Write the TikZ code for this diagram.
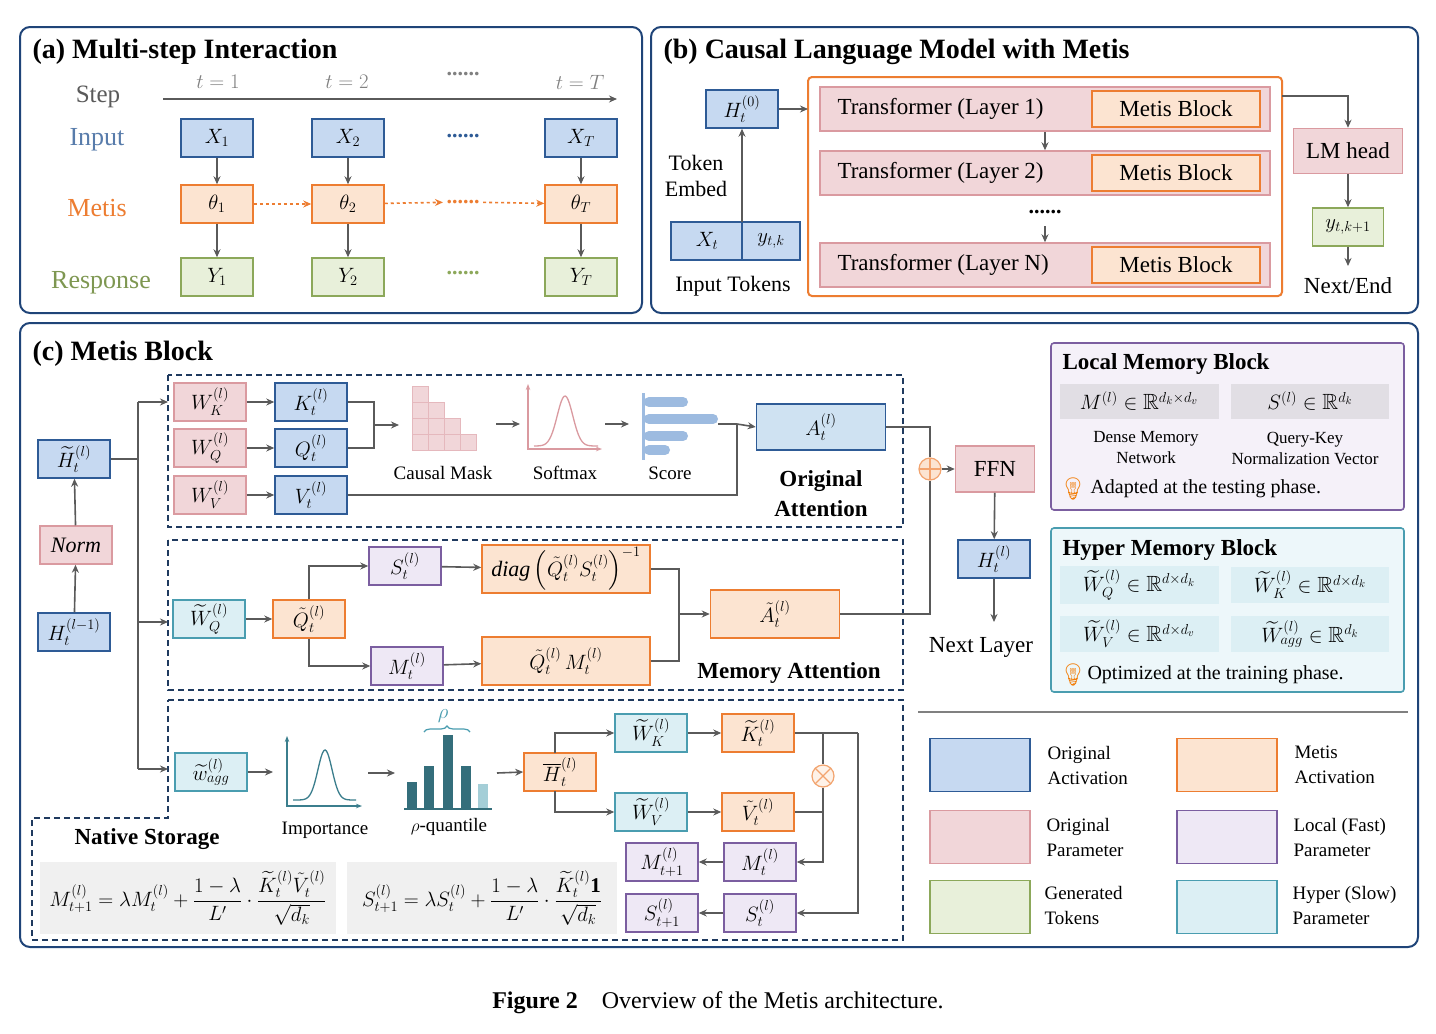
\documentclass[tikz,border=0pt]{standalone}
\usepackage{amsmath,amssymb}
\usepackage{fontspec}
\setmainfont{Liberation Serif}
\newfontfamily\emojifont{Noto Emoji}
\usetikzlibrary{arrows.meta,decorations.pathreplacing}
\definecolor{bF}{HTML}{C6D9F1}\definecolor{bD}{HTML}{2E5B96}
\definecolor{oF}{HTML}{FCE4D1}\definecolor{oD}{HTML}{ED7D31}
\definecolor{pF}{HTML}{F1D6D9}\definecolor{pD}{HTML}{DA9AA0}
\definecolor{gF}{HTML}{E8F0DA}\definecolor{gD}{HTML}{8CA85A}
\definecolor{uF}{HTML}{EEE8F5}\definecolor{uD}{HTML}{7B5EA0}
\definecolor{cF}{HTML}{DCEFF4}\definecolor{cD}{HTML}{4A9DB0}
\definecolor{panel}{HTML}{1F4478}
\definecolor{ar}{HTML}{5A5A5A}
\definecolor{dash}{HTML}{1F3A5F}
\definecolor{scb}{HTML}{9DBBE0}
\tikzset{
 base/.style={draw, line width=1.5pt, minimum width=72pt, minimum height=38pt, inner sep=1pt, font=\fontsize{22}{26}\selectfont},
 bbox/.style={base, fill=bF, draw=bD},
 obox/.style={base, fill=oF, draw=oD},
 pbox/.style={base, fill=pF, draw=pD},
 gbox/.style={base, fill=gF, draw=gD},
 ubox/.style={base, fill=uF, draw=uD},
 cbox/.style={base, fill=cF, draw=cD},
 arr/.style={draw=ar, line width=1.6pt, -{Stealth[length=8pt,width=7pt]}},
 ln/.style={draw=ar, line width=1.6pt},
 pan/.style={draw=panel, line width=2pt, rounded corners=10pt},
 dreg/.style={draw=dash, line width=1.4pt, dash pattern=on 6pt off 4pt},
 ttl/.style={anchor=west, font=\fontsize{28}{32}\selectfont\bfseries},
 txt/.style={font=\fontsize{22}{26}\selectfont},
 sm/.style={font=\fontsize{19}{22}\selectfont, align=center},
}
\begin{document}
\begin{tikzpicture}[x=1pt,y=-1pt, font=\fontsize{22}{26}\selectfont]
\useasboundingbox[fill=white] (0,0) rectangle (1436,1034);
% panels
\draw[pan] (20,27) rectangle (642,313);
\draw[pan] (651,27) rectangle (1418,313);
\draw[pan] (20,323) rectangle (1418,947);
\node[anchor=center, font=\fontsize{24}{28}\selectfont] (cap) at (718,1003) {\textbf{Figure 2}\quad Overview of the Metis architecture.};

% ===== (a)
\node[ttl] (ta) at (29,52) {(a) Multi-step Interaction};
\node[text=ar, font=\fontsize{25}{28}\selectfont] (step) at (98,97) {Step};
\coordinate (s0) at (163,99); \coordinate (s1) at (617,99);
\draw[arr] (s0) -- (s1);
\foreach \xx/\lb in {218/{t=1},347/{t=2},580/{t=T}} \node[text=gray, font=\fontsize{20}{24}\selectfont] at (\xx,82) {$\lb$};
\node[text=gray] (dt) at (463,74) {\textbf{......}};
\node[text=bD!80, font=\fontsize{26}{30}\selectfont] (li) at (97,140) {Input};
\node[text=oD, font=\fontsize{26}{30}\selectfont] (lm) at (97,208) {Metis};
\node[text=gD!90!black, font=\fontsize{26}{30}\selectfont] (lr) at (101,283) {Response};
\foreach \n/\xx/\s in {1/217/1,2/348/2,T/581/T}{
 \node[bbox] (x\n) at (\xx,138) {$X_\s$};
 \node[obox] (th\n) at (\xx,204) {$\theta_\s$};
 \node[gbox] (y\n) at (\xx,277) {$Y_\s$};
 \draw[arr] (x\n) -- (th\n); \draw[arr] (th\n) -- (y\n);}
\node[text=bD] (d1) at (463,136) {\textbf{......}};
\node[text=oD] (d2) at (463,202) {\textbf{......}};
\node[text=gD] (d3) at (463,273) {\textbf{......}};
\draw[arr, draw=oD, dashed] (th1) -- (th2);
\draw[arr, draw=oD, dashed] (th2) -- (d2);
\draw[arr, draw=oD, dashed] (d2) -- (thT);

% ===== (b)
\node[ttl] (tb) at (660,52) {(b) Causal Language Model with Metis};
\node[bbox] (h0) at (742,109) {$H_t^{(0)}$};
\node[txt, align=center] (te) at (696,176) {Token\\Embed};
\node[bbox] (xt) at (707,241) {$X_t$};
\node[bbox, minimum width=58pt] (ytk) at (771,241) {$y_{t,k}$};
\node[txt] (itk) at (733,286) {Input Tokens};
\coordinate (em) at (742,222);
\draw[arr] (em) -- (h0);
\draw[draw=oD, line width=2pt, rounded corners=4pt] (808,77) rectangle (1282,296);
\coordinate (of) at (808,109);
\draw[arr] (h0) -- (of);
\foreach \i/\yy/\lab in {1/109/1,2/173/2,3/265/N}{
 \node[pbox, minimum width=450pt, minimum height=44pt] (tr\i) at (1045,\yy) {};
 \node[anchor=west, font=\fontsize{23}{27}\selectfont] at (834,\yy) {Transformer (Layer \lab)};
 \node[obox, minimum width=168pt, minimum height=36pt, font=\fontsize{23}{27}\selectfont] (mb\i) at (1176,\yy) {Metis Block};}
\draw[arr] (tr1) -- (tr2);
\node (vd) at (1045,212) {\textbf{......}};
\draw[arr] (1045,226) -- (tr3);
\node[pbox, minimum width=109pt, minimum height=45pt, font=\fontsize{23}{27}\selectfont] (lmh) at (1348,151) {LM head};
\node[gbox, minimum width=71pt] (yk1) at (1348,227) {$y_{t,k+1}$};
\draw[arr] (1282,96) -| (lmh);
\draw[arr] (lmh) -- (yk1);
\coordinate (ne) at (1348,266);
\draw[arr] (yk1) -- (ne);
\node[font=\fontsize{23}{27}\selectfont] (nend) at (1348,286) {Next/End};

% ===== (c)
\node[ttl] (tc) at (29,354) {(c) Metis Block};
\draw[dreg] (168,375) rectangle (903,527);
\draw[dreg] (168,540) rectangle (903,690);
\draw[dreg] (168,700) -- (903,700) -- (903,940) -- (32,940) -- (32,818) -- (168,818) -- cycle;

\node[bbox] (ht) at (74,459) {$\widetilde H_t^{(l)}$};
\node[pbox] (norm) at (76,545) {$\mathit{Norm}$};
\node[bbox] (hl1) at (74,632) {$H_t^{(l-1)}$};
\draw[arr] (hl1) -- (norm); \draw[arr] (norm) -- (ht);
\draw[ln] (ht.east) -- (138,459);
\draw[ln] (138,402) -- (138,769);
\draw[arr] (138,402) -- (168,402);
\draw[arr] (138,622) -- (168,622);
\draw[arr] (138,769) -- (168,769);

% original attention
\node[pbox] (wk) at (210,402) {$W_K^{(l)}$};
\node[pbox] (wq) at (210,448) {$W_Q^{(l)}$};
\node[pbox] (wv) at (210,495) {$W_V^{(l)}$};
\node[bbox] (kt) at (311,402) {$K_t^{(l)}$};
\node[bbox] (qt) at (311,448) {$Q_t^{(l)}$};
\node[bbox] (vt) at (311,495) {$V_t^{(l)}$};
\draw[arr] (wk) -- (kt); \draw[arr] (wq) -- (qt); \draw[arr] (wv) -- (vt);
\draw[ln] (kt.east) -| (374,448) -- (qt.east);
\draw[arr] (374,425) -- (399,425);
\foreach \c in {0,...,3}{ \pgfmathtruncatemacro{\nn}{3-\c}
 \foreach \r in {0,...,\nn}{ \draw[draw=pD!70, fill=pF, line width=0.8pt] (412+16*\c,450-16*\r) rectangle ++(16,-16);}}
\node[sm] (cm) at (443,473) {Causal Mask};
\draw[arr] (496,424) -- (520,424);
\draw[draw=pD, line width=1.2pt, {Stealth[length=6pt]}-{Stealth[length=6pt]}] (528,384) -- (528,449) -- (602,449);
\draw[draw=pD, line width=1.3pt, domain=534:598, samples=50, smooth] plot (\x, {446-50*exp(-((\x-565)/11)^2)});
\node[sm] (smx) at (565,473) {Softmax};
\draw[arr] (605,424) -- (629,424);
\draw[draw=scb, line width=3pt] (643,393) -- (643,460);
\foreach \yy/\ll in {402/683,419/713,436/683,450/665} \draw[scb, line width=10pt, line cap=round] (649,\yy) -- (\ll,\yy);
\node[sm] (sco) at (670,473) {Score};
\node[bbox, minimum width=129pt, minimum height=46pt, fill=bF!60!cF] (at) at (821,427) {$A_t^{(l)}$};
\draw[ln] (718,424) -- (737,424);
\draw[arr] (737,424) -- (at.west);
\draw[ln] (vt.east) -- (737,495) -- (737,424);
\node[font=\fontsize{23}{30}\selectfont\bfseries, align=center] (oa) at (821,494) {Original\\Attention};

% memory attention
\node[cbox] (wqm) at (209,619) {$\widetilde W_Q^{(l)}$};
\node[obox] (qtm) at (309,619) {$\tilde Q_t^{(l)}$};
\node[ubox] (stm) at (405,566) {$S_t^{(l)}$};
\node[ubox] (mtm) at (407,666) {$M_t^{(l)}$};
\node[obox, minimum width=168pt, minimum height=48pt] (dg) at (566,569) {$\mathit{diag}\left(\tilde Q_t^{(l)} S_t^{(l)}\right)^{-1}$};
\node[obox, minimum width=168pt, minimum height=48pt] (qm) at (566,661) {$\tilde Q_t^{(l)}\, M_t^{(l)}$};
\node[obox, minimum width=129pt, minimum height=48pt] (atm) at (775,614) {$\tilde A_t^{(l)}$};
\draw[arr] (wqm) -- (qtm);
\draw[arr] (qtm.north) |- (stm.west);
\draw[arr] (qtm.south) |- (mtm.west);
\draw[arr] (stm) -- (dg); \draw[arr] (mtm) -- (qm);
\draw[ln] (dg.east) -| (679,661) -- (qm.east);
\draw[arr] (679,614) -- (atm.west);
\node[font=\fontsize{23}{27}\selectfont\bfseries] (mat) at (789,673) {Memory Attention};

% FFN
\node[circle, draw=oD!70, fill=oF, line width=1.2pt, minimum size=22pt, inner sep=0pt] (plus) at (930,469) {};
\draw[oD!70, line width=1.2pt] (919,469) -- (941,469) (930,458) -- (930,480);
\draw[ln] (at.east) -- (930,427) -- (plus.north);
\draw[ln] (atm.east) -- (930,614) -- (plus.south);
\node[pbox, minimum width=79pt, minimum height=46pt, font=\fontsize{23}{27}\selectfont] (ffn) at (995,469) {FFN};
\draw[arr] (plus) -- (ffn);
\node[bbox] (hout) at (994,559) {$H_t^{(l)}$};
\draw[arr] (ffn) -- (hout);
\coordinate (nl) at (994,622);
\draw[arr] (hout) -- (nl);
\node[font=\fontsize{23}{27}\selectfont] (nlt) at (981,647) {Next Layer};

% native storage region
\node[cbox] (wag) at (211,772) {$\widetilde w_{agg}^{(l)}$};
\draw[arr] (wag) -- (273,772);
\draw[draw=cD!80!black, line width=1.2pt, {Stealth[length=6pt]}-{Stealth[length=6pt]}] (287,736) -- (287,806) -- (362,806);
\draw[draw=cD!80!black, line width=1.3pt, domain=293:356, samples=50, smooth] plot (\x, {800-50*exp(-((\x-325)/10)^2)});
\node[sm] (imp) at (325,830) {Importance};
\draw[arr] (368,773) -- (395,773);
\draw[cD!70!black, line width=2pt] (404,809) -- (492,809);
\foreach \xx/\tp/\cc in {412/782/cD!70!black,429/766/cD!70!black,448/735/cD!70!black,466/766/cD!70!black,483/784/cD!50}
 \fill[\cc] (\xx-5,808) rectangle (\xx+5,\tp);
\draw[decorate, decoration={brace, amplitude=6pt}, draw=cD, line width=1.2pt] (424,732) -- (470,732);
\node[text=cD] (rho) at (443,716) {$\rho$};
\node[sm] (rq) at (449,827) {$\rho$-quantile};
\node[obox] (hb) at (560,772) {$\overline H_t^{(l)}$};
\draw[arr] (497,773) -- (hb.west);
\node[cbox] (wkh) at (651,733) {$\widetilde W_K^{(l)}$};
\node[cbox] (wvh) at (651,812) {$\widetilde W_V^{(l)}$};
\node[obox] (kh) at (758,733) {$\widetilde K_t^{(l)}$};
\node[obox] (vh) at (758,812) {$\tilde V_t^{(l)}$};
\draw[arr] (555,753) |- (wkh.west);
\draw[arr] (555,791) |- (wvh.west);
\draw[arr] (wkh) -- (kh); \draw[arr] (wvh) -- (vh);
\node[ubox] (mt) at (760,862) {$M_t^{(l)}$};
\node[ubox] (mt1) at (662,862) {$M_{t+1}^{(l)}$};
\node[ubox] (st) at (760,913) {$S_t^{(l)}$};
\node[ubox] (st1) at (662,913) {$S_{t+1}^{(l)}$};
\draw[arr] (mt) -- (mt1); \draw[arr] (st) -- (st1);
\node[circle, draw=oD!70, fill=oF!50, line width=1.2pt, minimum size=22pt, inner sep=0pt] (ot) at (823,776) {};
\draw[oD!70, line width=1.2pt] (823,776) ++(45:11pt) -- ++(225:22pt) (823,776) ++(135:11pt) -- ++(315:22pt);
\draw[ln] (kh.east) -- (858,733);
\draw[ln] (823,733) -- (ot.north);
\draw[ln] (vh.east) -- (823,812);
\draw[arr] (ot.south) |- (mt.east);
\draw[arr] (858,733) |- (st.east);
\node[font=\fontsize{23}{27}\selectfont\bfseries] (ns) at (147,839) {Native Storage};
\fill[gray!12] (40,862) rectangle (336,934);
\fill[gray!12] (347,862) rectangle (617,934);
\node[font=\fontsize{21}{25}\selectfont] (f1) at (188,898) {$M_{t+1}^{(l)} = \lambda M_t^{(l)} + \dfrac{1-\lambda}{L'}\cdot\dfrac{\widetilde K_t^{(l)}\tilde V_t^{(l)}}{\sqrt{d_k}}$};
\node[font=\fontsize{21}{25}\selectfont] (f2) at (482,898) {$S_{t+1}^{(l)} = \lambda S_t^{(l)} + \dfrac{1-\lambda}{L'}\cdot\dfrac{\widetilde K_t^{(l)}\mathbf 1}{\sqrt{d_k}}$};

% local memory block
\draw[draw=uD, line width=1.6pt, fill=uF!60, rounded corners=3pt] (1051,343) rectangle (1404,510);
\node[anchor=west, font=\fontsize{23}{27}\selectfont\bfseries] (lmb) at (1059,364) {Local Memory Block};
\node[fill=uF!70!gray!60, minimum width=159pt, minimum height=35pt] (lm1) at (1139,401) {$M^{(l)}\in\mathbb R^{d_k\times d_v}$};
\node[fill=uF!70!gray!60, minimum width=158pt, minimum height=35pt] (lm2) at (1310,401) {$S^{(l)}\in\mathbb R^{d_k}$};
\node[font=\fontsize{17}{21}\selectfont, align=center] (dmn) at (1146,448) {Dense Memory\\Network};
\node[font=\fontsize{17}{21}\selectfont, align=center] (qkn) at (1305,448) {Query-Key\\Normalization Vector};
\node[text=orange!80!brown] (bulb1) at (1073,489) {\emojifont 💡};
\node[anchor=west, font=\fontsize{20}{23}\selectfont] (ad) at (1087,489) {Adapted at the testing phase.};

% hyper memory block
\draw[draw=cD, line width=1.6pt, fill=cF!50, rounded corners=3pt] (1051,528) rectangle (1404,692);
\node[anchor=west, font=\fontsize{23}{27}\selectfont\bfseries] (hmb) at (1059,550) {Hyper Memory Block};
\node[fill=cF, minimum width=159pt, minimum height=36pt] (hm1) at (1139,585) {$\widetilde W_Q^{(l)}\in\mathbb R^{d\times d_k}$};
\node[fill=cF, minimum width=158pt, minimum height=36pt] (hm2) at (1310,585) {$\widetilde W_K^{(l)}\in\mathbb R^{d\times d_k}$};
\node[fill=cF, minimum width=159pt, minimum height=36pt] (hm3) at (1139,634) {$\widetilde W_V^{(l)}\in\mathbb R^{d\times d_v}$};
\node[fill=cF, minimum width=158pt, minimum height=36pt] (hm4) at (1310,634) {$\widetilde W_{agg}^{(l)}\in\mathbb R^{d_k}$};
\node[text=orange!80!brown] (bulb2) at (1073,675) {\emojifont 💡};
\node[anchor=west, font=\fontsize{20}{23}\selectfont] (op) at (1084,675) {Optimized at the training phase.};

% legend
\draw[gray, line width=1.5pt] (918,712) -- (1408,712);
\tikzset{lg/.style={base, minimum width=100pt, minimum height=53pt}, lt/.style={anchor=west, align=left, font=\fontsize{19}{25}\selectfont}}
\node[lg, fill=bF, draw=bD] (L1) at (980,765) {}; \node[lt] at (1044,765) {Original\\Activation};
\node[lg, fill=oF, draw=oD] (L2) at (1227,765) {}; \node[lt] at (1291,765) {Metis\\Activation};
\node[lg, fill=pF, draw=pD] (L3) at (980,837) {}; \node[lt] at (1043,837) {Original\\Parameter};
\node[lg, fill=uF, draw=uD] (L4) at (1227,837) {}; \node[lt] at (1290,837) {Local (Fast)\\Parameter};
\node[lg, fill=gF, draw=gD] (L5) at (980,907) {}; \node[lt] at (1041,905) {Generated\\Tokens};
\node[lg, fill=cF, draw=cD] (L6) at (1227,907) {}; \node[lt] at (1289,905) {Hyper (Slow)\\Parameter};
\end{tikzpicture}
\end{document}
